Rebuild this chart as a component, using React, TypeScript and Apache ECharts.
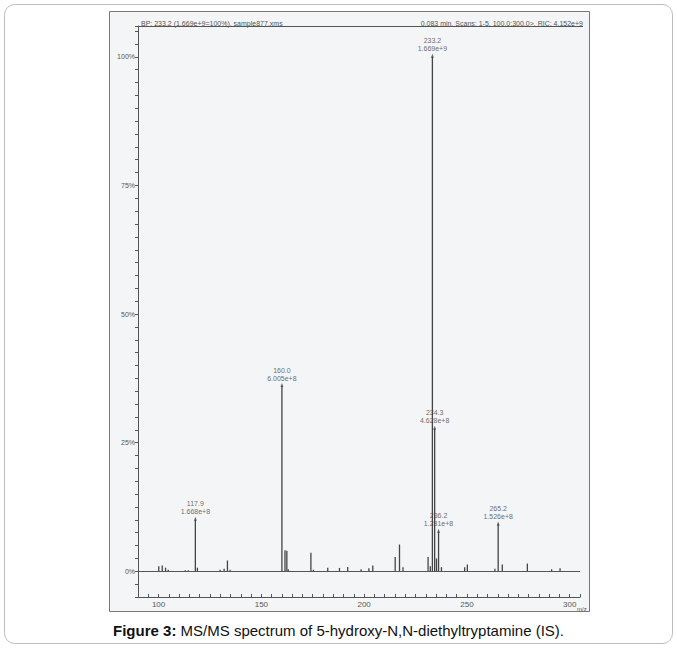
import React, { useEffect, useRef } from "react";
import * as echarts from "echarts";

// m/z positions and relative intensities (%)
const peakMz = [100.1, 101.8, 103.4, 104.7, 113.0, 114.5, 117.9, 118.9, 129.9, 131.9, 133.5, 134.8,
  160.0, 161.5, 162.4, 163.1, 174.1, 175.3, 182.3, 188.0, 192.0, 198.5, 202.3, 204.2,
  215.1, 217.2, 218.9, 231.1, 232.2, 233.2, 234.3, 235.2, 236.2, 237.6, 248.9, 250.2,
  263.6, 265.2, 267.2, 279.4, 291.2, 295.3];
const peakRel = [1.0, 1.1, 0.7, 0.3, 0.2, 0.2, 10.0, 0.7, 0.3, 0.5, 2.1, 0.3,
  36.0, 4.1, 4.0, 0.4, 3.6, 0.3, 0.7, 0.65, 0.85, 0.4, 0.6, 1.1,
  2.8, 5.2, 0.8, 2.8, 1.0, 100.0, 27.7, 2.5, 7.7, 0.8, 0.8, 1.3,
  0.5, 9.1, 1.3, 1.5, 0.4, 0.6];

// annotated peaks
const annMz = [117.9, 160.0, 233.2, 234.3, 236.2, 265.2];
const annRel = [10.0, 36.0, 100.0, 27.7, 7.7, 9.1];
const annAbs = ["1.668e+8", "6.005e+8", "1.669e+9", "4.628e+8", "1.281e+8", "1.526e+8"];

const yLabels = [0, 25, 50, 75, 100];
const xLabels = [100, 150, 200, 250, 300];

const headerLeft = "BP: 233.2 (1.669e+9=100%), sample877.xms";
const headerRight = "0.083 min, Scans: 1-5, 100.0:300.0>, RIC: 4.152e+9";
const captionBold = "Figure 3:";
const captionText = " MS/MS spectrum of 5-hydroxy-N,N-diethyltryptamine (IS).";

export default function App() {
  const ref = useRef<HTMLDivElement>(null);
  useEffect(() => {
    if (!ref.current) return;
    const chart = echarts.init(ref.current, undefined, { renderer: "svg" });
    const font = "Liberation Sans, Arial, sans-serif";
    chart.setOption({
      animation: false,
      grid: { left: 138, right: 97, top: 26, bottom: 51, containLabel: false },
      xAxis: {
        type: "value",
        min: 90,
        max: 305,
        interval: 5,
        axisLine: { onZero: false, lineStyle: { color: "#555", width: 1 } },
        axisTick: { inside: true, length: 3, lineStyle: { color: "#555" } },
        splitLine: { show: false },
        axisLabel: {
          fontSize: 8,
          fontFamily: font,
          color: "#555",
          margin: 3,
          formatter: (v: number) => (xLabels.indexOf(v) >= 0 ? String(v) : ""),
        },
      },
      yAxis: {
        type: "value",
        min: -5,
        max: 106,
        interval: 2.5,
        axisLine: { show: true, lineStyle: { color: "#555", width: 1 } },
        axisTick: { show: true, length: 3, lineStyle: { color: "#555" } },
        splitLine: { show: false },
        axisLabel: {
          fontSize: 7,
          fontFamily: font,
          color: "#555",
          margin: 3,
          formatter: (v: number) => (yLabels.indexOf(v) >= 0 ? v + "%" : ""),
        },
      },
      series: [
        {
          type: "bar",
          barWidth: 1.3,
          itemStyle: { color: "#444" },
          data: peakMz.map((m, i) => [m, peakRel[i]]),
          markLine: {
            silent: true,
            symbol: "none",
            label: { show: false },
            lineStyle: { color: "#555", width: 1, type: "solid" },
            data: [{ yAxis: 0 }],
          },
        },
        {
          type: "scatter",
          symbol: "triangle",
          symbolSize: [3, 4],
          symbolOffset: [0, -1],
          itemStyle: { color: "#444" },
          emphasis: { disabled: true },
          data: annMz.map((m, i) => [m, annRel[i]]),
          label: {
            show: true,
            position: "top",
            distance: 1,
            fontSize: 7,
            lineHeight: 8,
            fontFamily: font,
            color: "#444",
            textBorderWidth: 0,
            formatter: (p: any) => {
              const i = p.dataIndex;
              return annMz[i].toFixed(1) + "\n" + annAbs[i];
            },
          },
        },
      ],
      graphic: [
        {
          type: "rect",
          z: -10,
          silent: true,
          shape: { x: 4.5, y: 4.5, width: 668, height: 639, r: 10 },
          style: { fill: "#ffffff", stroke: "#bdbdbd", lineWidth: 1 },
        },
        {
          type: "rect",
          z: -9,
          silent: true,
          shape: { x: 109.5, y: 11.5, width: 480, height: 600 },
          style: { fill: "#f4f5f7", stroke: "#777", lineWidth: 1 },
        },
        {
          type: "line",
          silent: true,
          shape: { x1: 138, y1: 26.5, x2: 583, y2: 26.5 },
          style: { stroke: "#555", lineWidth: 1 },
        },
        {
          type: "text",
          silent: true,
          x: 141,
          y: 27,
          style: { text: headerLeft, fontSize: 7, fontFamily: font, fill: "#555", align: "left", verticalAlign: "bottom" },
        },
        {
          type: "text",
          silent: true,
          x: 583,
          y: 27,
          style: { text: headerRight, fontSize: 7, fontFamily: font, fill: "#555", align: "right", verticalAlign: "bottom" },
        },
        {
          type: "text",
          silent: true,
          x: 577,
          y: 609,
          style: { text: "m/z", fontSize: 6, fontFamily: font, fill: "#555", align: "left", verticalAlign: "middle" },
        },
        {
          type: "text",
          silent: true,
          x: 338.5,
          y: 630,
          style: {
            text: "{b|" + captionBold + "}" + captionText,
            fontSize: 15,
            fontFamily: font,
            fill: "#111",
            align: "center",
            verticalAlign: "middle",
            rich: { b: { fontWeight: "bold", fontSize: 15, fontFamily: font, fill: "#111" } },
          },
        },
      ],
    });
    return () => chart.dispose();
  }, []);
  return (
    <div
      ref={ref}
      style={{ position: "absolute", left: 0, top: 0, width: 677, height: 648 }}
    />
  );
}
